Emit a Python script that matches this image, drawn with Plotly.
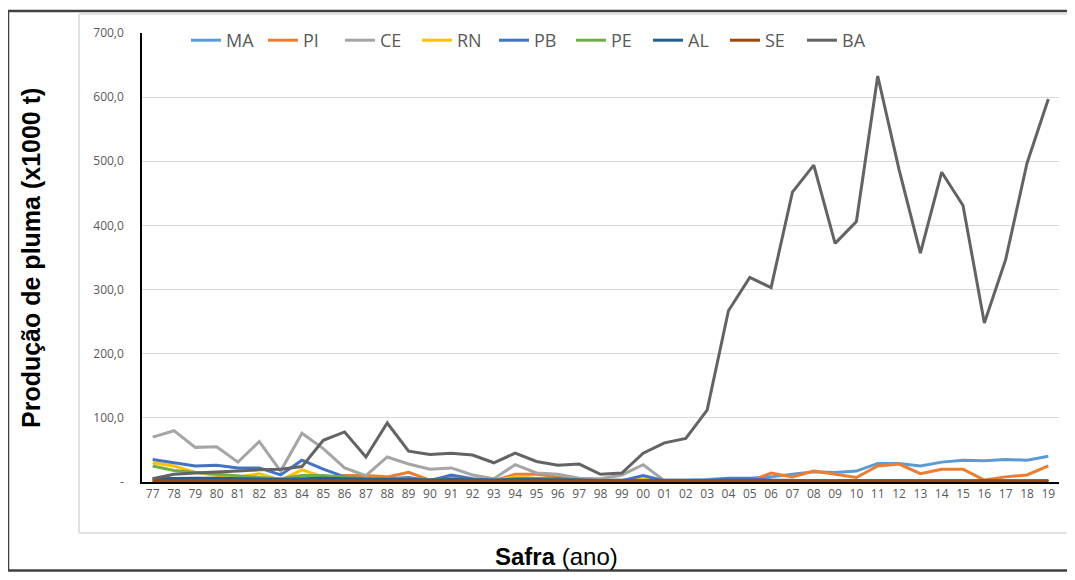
import plotly.graph_objects as go

cats = ["77", "78", "79", "80", "81", "82", "83", "84", "85", "86", "87", "88", "89",
        "90", "91", "92", "93", "94", "95", "96", "97", "98", "99",
        "00", "01", "02", "03", "04", "05", "06", "07", "08", "09",
        "10", "11", "12", "13", "14", "15", "16", "17", "18", "19"]

MA = [2, 3, 3, 3, 3, 3, 2, 3, 3, 2, 2, 2, 2, 2, 2, 2, 2, 3, 3, 3, 2, 2, 2,
      3, 3, 3, 4, 6, 6, 8, 12, 16, 15, 17, 29, 29, 25, 31, 34, 33, 35, 34, 40]
PI = [3, 3, 3, 3, 3, 4, 2, 4, 5, 10, 10, 8, 15, 3, 8, 3, 2, 12, 12, 8, 3, 1, 1,
      2, 1, 1, 1, 1, 1, 14, 8, 17, 12, 7, 25, 28, 13, 20, 20, 3, 8, 11, 25]
CE = [70, 80, 54, 55, 31, 63, 17, 76, 52, 22, 10, 39, 28, 20, 22, 11, 5, 27, 14, 12, 6, 5, 11,
      27, 2, 1, 1, 1, 1, 1, 1, 1, 0, 0, 0, 0, 0, 0, 0, 0, 0, 0, 0]
RN = [30, 25, 15, 10, 8, 13, 3, 19, 8, 5, 3, 3, 3, 2, 3, 2, 2, 8, 5, 3, 2, 1, 1,
      5, 1, 1, 1, 1, 1, 1, 1, 1, 1, 1, 1, 1, 1, 1, 1, 1, 1, 1, 1]
PB = [35, 30, 25, 26, 22, 22, 11, 34, 20, 8, 4, 5, 7, 2, 11, 5, 2, 5, 5, 5, 3, 2, 2,
      10, 2, 2, 2, 5, 5, 3, 2, 2, 2, 2, 1, 1, 1, 1, 1, 1, 1, 1, 1]
PE = [25, 18, 15, 12, 10, 7, 5, 10, 10, 8, 5, 5, 5, 3, 4, 3, 2, 5, 4, 3, 2, 2, 2,
      2, 2, 2, 2, 2, 2, 2, 2, 2, 2, 1, 1, 1, 1, 1, 1, 1, 1, 1, 1]
AL = [5, 6, 6, 6, 5, 5, 4, 5, 6, 5, 4, 4, 4, 3, 4, 3, 3, 4, 4, 3, 3, 2, 2,
      3, 3, 3, 3, 3, 3, 3, 2, 2, 2, 2, 2, 2, 2, 2, 2, 2, 2, 2, 2]
SE = [2, 2, 2, 2, 2, 2, 2, 2, 2, 2, 2, 2, 2, 2, 2, 2, 2, 2, 2, 2, 1, 1, 1,
      1, 1, 1, 1, 1, 1, 1, 1, 1, 1, 1, 1, 1, 1, 1, 1, 1, 1, 1, 1]
BA = [5, 12, 14, 15, 17, 19, 20, 24, 65, 78, 39, 92, 48, 43, 45, 42, 30, 45, 32, 26, 28, 12, 14,
      45, 61, 68, 112, 267, 319, 303, 452, 494, 372, 406, 633, 487, 357, 483, 431, 248, 347, 497, 597]

series_names = ["MA", "PI", "CE", "RN", "PB", "PE", "AL", "SE", "BA"]
series_values = [MA, PI, CE, RN, PB, PE, AL, SE, BA]
colors = ["#5B9BD5", "#ED7D31", "#A5A5A5", "#FFC000", "#4472C4",
          "#70AD47", "#255E91", "#9E480E", "#636363"]

y_tickvals = [0, 100, 200, 300, 400, 500, 600, 700]
y_ticktext = ["-", "100,0", "200,0", "300,0", "400,0", "500,0", "600,0", "700,0"]

# page body has an 8px default margin: screen px = figure px + 8.
# Figure sized so page (with margins) exactly fills the 1075x580 window.
OFF = 8
W, H = 1075 - 2 * OFF, 580 - 2 * OFF
SX0, SX1, SY0, SY1 = 142, 1059, 33, 482   # plot area on screen
ML, MT = SX0 - OFF, SY0 - OFF
MR, MB = W - (SX1 - OFF), H - (SY1 - OFF)
PW, PH = SX1 - SX0, SY1 - SY0


def px_x(p):
    return (p - SX0) / PW


def px_y(p):
    return (SY1 - p) / PH


def seg(x0, y0, x1, y1, color, width, layer):
    return dict(type="line", xref="paper", yref="paper",
                x0=px_x(x0), y0=px_y(y0), x1=px_x(x1), y1=px_y(y1),
                line=dict(color=color, width=width), layer=layer)


fig = go.Figure()
for name, vals, col in zip(series_names, series_values, colors):
    fig.add_trace(go.Scatter(x=cats, y=vals, name=name, mode="lines",
                             line=dict(color=col, width=3)))

tick_font = dict(family="Open Sans, Liberation Sans, sans-serif", size=12, color="#595959")

inner = "#D9D9D9"
outer = "#404040"
shapes = [
    seg(79, 14, 1090, 14, inner, 1.5, "below"),
    seg(79, 14, 79, 533, inner, 1.5, "below"),
    seg(79, 533, 1090, 533, inner, 1.5, "below"),
    seg(8, 11, 1090, 11, outer, 2.5, "above"),
    seg(8, 11, 8, 570.5, outer, 2.5, "above"),
    seg(8, 570.5, 1090, 570.5, outer, 2.5, "above"),
]

fig.update_layout(
    width=W, height=H,
    margin=dict(l=ML, r=MR, t=MT, b=MB),
    paper_bgcolor="white", plot_bgcolor="white",
    showlegend=True,
    legend=dict(orientation="h", x=px_x(186), y=px_y(22), xanchor="left", yanchor="top",
                bgcolor="rgba(0,0,0,0)", entrywidth=32, entrywidthmode="pixels",
                font=dict(family="Liberation Sans Narrow, Open Sans, sans-serif", size=18,
                          color="#595959"),
                traceorder="normal"),
    xaxis=dict(type="category", range=[-0.5, 42.5], showgrid=False,
               showline=True, linecolor="black", linewidth=1.5,
               ticks="", tickfont=tick_font, tickangle=0, zeroline=False),
    yaxis=dict(range=[0, 700], tickvals=y_tickvals, ticktext=y_ticktext,
               showgrid=True, gridcolor="#D9D9D9", gridwidth=1,
               showline=True, linecolor="black", linewidth=1.5,
               ticks="", ticklabelstandoff=14, tickfont=tick_font, zeroline=False),
    shapes=shapes,
    annotations=[
        dict(text="<b>Produção de pluma (x1000 t)</b>", xref="paper", yref="paper",
             x=px_x(31), y=px_y(258), xanchor="center", yanchor="middle",
             textangle=-90, showarrow=False,
             font=dict(family="Arial, Liberation Sans, sans-serif", size=25, color="black")),
        dict(text="<b>Safra</b> (ano)", xref="paper", yref="paper",
             x=px_x(556), y=px_y(556), xanchor="center", yanchor="middle",
             showarrow=False,
             font=dict(family="Arial, Liberation Sans, sans-serif", size=24, color="black")),
    ],
)

fig.write_html("out.html")
